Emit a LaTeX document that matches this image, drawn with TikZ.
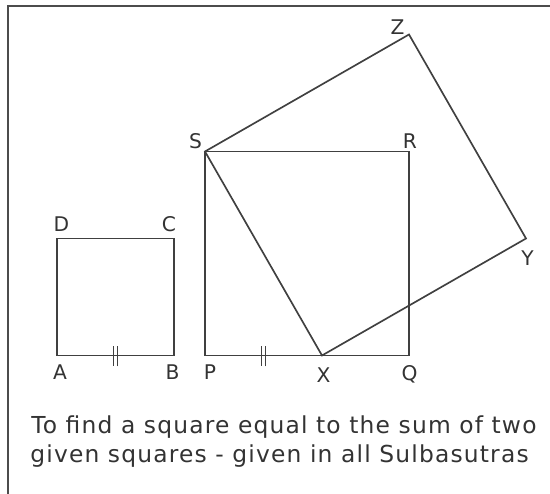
\documentclass[tikz,border=0pt]{standalone}
\usepackage{fontspec}
\setmainfont{DejaVu Sans}
\newfontfamily\capfont[LetterSpace=5]{DejaVu Sans}
\usetikzlibrary{calc}

\tikzset{
    side/.style={draw=black!75, line width=0.95pt, line join=miter},
    tick/.style={draw=black!75, line width=0.8pt},
    lbl/.style={inner sep=0pt, font=\fontsize{11.5}{12}\selectfont, text=black!80},
    caption/.style={inner sep=0pt, anchor=base west, text=black!80,
        font=\capfont\fontsize{13.3}{16}\selectfont},
}

\begin{document}
\begin{tikzpicture}
    \useasboundingbox (0,0) rectangle (11,9.88);
    \draw[black!70, line width=1.2pt] (0.16,0) -- (0.16,9.76) -- (11,9.76);

    % the two given squares
    \coordinate (A) at (1.14,2.77);
    \coordinate (B) at (3.48,2.77);
    \coordinate (C) at (3.48,5.11);
    \coordinate (D) at (1.14,5.11);
    \coordinate (P) at (4.10,2.77);
    \coordinate (Q) at (8.18,2.77);
    \coordinate (R) at (8.18,6.85);
    \coordinate (S) at (4.10,6.85);
    \coordinate (X) at ($(P)+(B)-(A)$);
    % square on SX
    \coordinate (Y) at ($(X)!1!-90:(S)$);
    \coordinate (Z) at ($(S)!1!90:(X)$);

    \draw[side] (A) -- (B) -- (C) -- (D) -- cycle;
    \draw[side] (P) -- (Q) -- (R) -- (S) -- cycle;
    \draw[side] (S) -- (X) -- (Y) -- (Z) -- cycle;

    % equal sides AB = PX
    \draw[tick] ($(A)!.5!(B)$) ++(-0.035,0.18) -- ++(0,-0.40) ++(0.07,0) -- ++(0,0.40);
    \draw[tick] ($(P)!.5!(X)$) ++(-0.035,0.18) -- ++(0,-0.40) ++(0.07,0) -- ++(0,0.40);

    \node[lbl] (lA) at ($(A)+(0.06,-0.33)$) {A};
    \node[lbl] (lB) at ($(B)+(-0.03,-0.33)$) {B};
    \node[lbl] (lC) at ($(C)+(-0.10,0.29)$) {C};
    \node[lbl] (lD) at ($(D)+(0.09,0.29)$) {D};
    \node[lbl] (lP) at ($(P)+(0.10,-0.34)$) {P};
    \node[lbl] (lX) at ($(X)+(0.03,-0.39)$) {X};
    \node[lbl] (lQ) at ($(Q)+(0.01,-0.38)$) {Q};
    \node[lbl] (lR) at ($(R)+(0.02,0.21)$) {R};
    \node[lbl] (lS) at ($(S)+(-0.19,0.21)$) {S};
    \node[lbl] (lZ) at ($(Z)+(-0.23,0.15)$) {Z};
    \node[lbl] (lY) at ($(Y)+(0.03,-0.39)$) {Y};

    \node[caption] (cap1) at (0.62,1.20) {To find a square equal to the sum of two};
    \node[caption] (cap2) at (0.60,0.62) {given squares - given in all Sulbasutras};
\end{tikzpicture}
\end{document}
